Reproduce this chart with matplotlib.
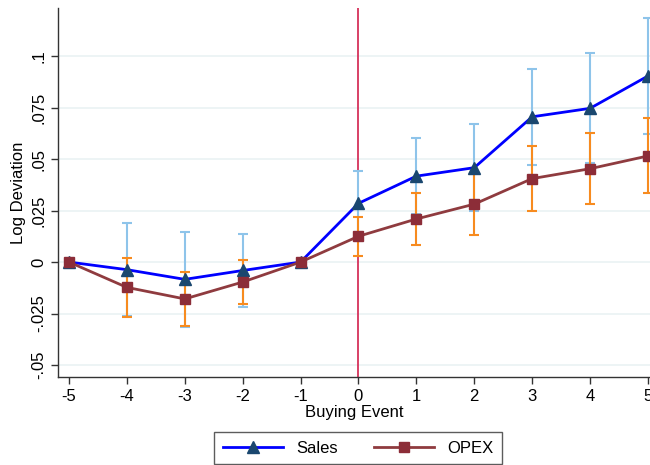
import matplotlib
matplotlib.use("Agg")
import matplotlib.pyplot as plt
import numpy as np

plt.rcParams['font.family'] = ['Liberation Sans', 'DejaVu Sans']

events = [-5, -4, -3, -2, -1, 0, 1, 2, 3, 4, 5]
sales = [0.0, -0.0037, -0.0084, -0.0041, 0.0, 0.0285, 0.0417, 0.0458, 0.0705, 0.0746, 0.0903]
sales_err = [0.0, 0.0225, 0.0229, 0.0179, 0.0, 0.0155, 0.0186, 0.0210, 0.0232, 0.0267, 0.0282]
opex = [0.0, -0.0123, -0.0179, -0.0097, 0.0, 0.0125, 0.0209, 0.0281, 0.0405, 0.0453, 0.0515]
opex_err = [0.0, 0.0145, 0.0133, 0.0107, 0.0, 0.0095, 0.0125, 0.0150, 0.0158, 0.0172, 0.0182]

yticks = [-0.05, -0.025, 0, 0.025, 0.05, 0.075, 0.1]
ytick_labels = ["-.05", "-.025", "0", ".025", ".05", ".075", ".1"]

fig = plt.figure(figsize=(6.5, 4.65), dpi=100)
ax = fig.add_axes([0.0892, 0.1892, 0.9108, 0.7936])

for y in yticks:
    ax.axhline(y, color='#eaf2f3', lw=1.2, zorder=0)

ax.axvline(0, color='#d6315a', lw=1.3, zorder=1)

ax.errorbar(events, sales, yerr=sales_err, fmt='none', ecolor='#8ec4ea', elinewidth=1.5,
            capsize=3.5, capthick=1.5, zorder=2)
ax.errorbar(events, opex, yerr=opex_err, fmt='none', ecolor='#f78b1f', elinewidth=1.5,
            capsize=3.5, capthick=1.5, zorder=3)

ax.plot(events, sales, color='#0000ff', lw=2, marker='^', markersize=8,
        markerfacecolor='#1a476f', markeredgecolor='#1a476f', zorder=4, label='Sales')
ax.plot(events, opex, color='#8f3b3f', lw=2, marker='s', markersize=7.5,
        markerfacecolor='#8c2d38', markeredgecolor='#8c2d38', zorder=5, label='OPEX')

ax.set_xlim(-5.19, 5.035)
ax.set_ylim(-0.0558, 0.1233)
ax.set_xticks(events)
ax.set_xticklabels([str(e) for e in events], fontsize=12)
ax.set_yticks(yticks)
ax.set_yticklabels(ytick_labels, fontsize=12, rotation=90, va='center')
ax.tick_params(axis='both', direction='out', length=5, width=1, color='#333333')

for s in ['top', 'right']:
    ax.spines[s].set_visible(False)
for s in ['left', 'bottom']:
    ax.spines[s].set_color('#333333')
    ax.spines[s].set_linewidth(1)

ax.set_xlabel('Buying Event', fontsize=12, labelpad=1)
ax.set_ylabel('Log Deviation', fontsize=12, labelpad=4)

leg = fig.legend(loc='upper center', bbox_to_anchor=(0.551, 0.070), ncol=2, fontsize=12,
                 frameon=True, fancybox=False, edgecolor='#333333', handlelength=3.6,
                 columnspacing=2.2, borderpad=0.5, borderaxespad=0)
leg.get_frame().set_linewidth(1)

fig.savefig('out.png', dpi=100)
